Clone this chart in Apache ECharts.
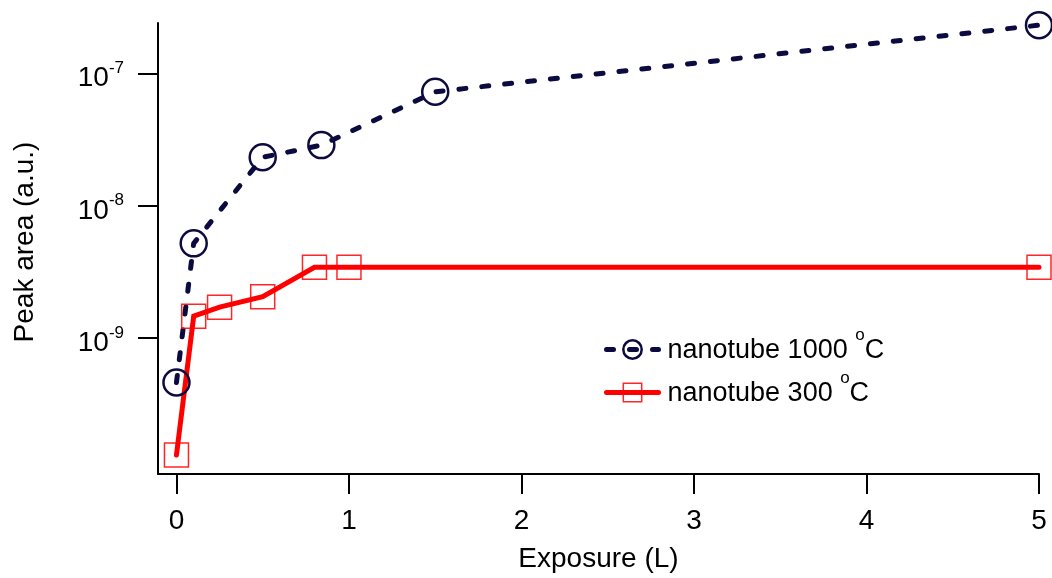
<!DOCTYPE html>
<html>
<head>
<meta charset="utf-8">
<title>Peak area vs exposure</title>
<script src="https://cdn.jsdelivr.net/npm/echarts@6/dist/echarts.min.js"></script>
<style>
  html, body { margin: 0; padding: 0; background: #ffffff; }
  #chart { width: 1052px; height: 578px; }
</style>
</head>
<body>
<div id="chart"></div>
<script>
// Exposure (Langmuir) and integrated peak area for the two nanotube samples
const seriesNames = ['nanotube 1000 °C', 'nanotube 300 °C'];
const exposure1000 = [0, 0.1, 0.5, 0.84, 1.5, 5];
const area1000 = [4.6e-10, 5.2e-9, 2.33e-8, 2.88e-8, 7.3e-8, 2.33e-7];
const exposure300 = [0, 0.1, 0.25, 0.5, 0.8, 1, 5];
const area300 = [1.3e-10, 1.46e-9, 1.71e-9, 2.05e-9, 3.42e-9, 3.42e-9, 3.42e-9];
const xTicks = [0, 1, 2, 3, 4, 5];
const yTicks = [1e-9, 1e-8, 1e-7];

const NAVY = '#0b0b3f';
const RED = '#ff0000';
const MARK_RED = 'rgba(255,0,0,0.85)';
const FONT = '"Liberation Sans", Arial, Helvetica, sans-serif';

function pairs(xs, ys) { return xs.map((x, i) => [x, ys[i]]); }

const chart = echarts.init(document.getElementById('chart'), null, { renderer: 'canvas' });

chart.setOption({
  animation: false,
  backgroundColor: '#ffffff',
  textStyle: { fontFamily: FONT },
  grid: { left: 158, right: 13, top: 23, bottom: 101, containLabel: false },
  xAxis: {
    type: 'value',
    min: -0.107,
    max: 5,
    name: 'Exposure (L)',
    nameLocation: 'middle',
    nameGap: 71,
    nameTextStyle: { fontSize: 28, lineHeight: 28, color: '#000', fontFamily: FONT },
    axisLine: { onZero: false, lineStyle: { color: '#000', width: 2 } },
    axisTick: { show: true, inside: false, length: 20, lineStyle: { color: '#000', width: 2 }, customValues: xTicks },
    axisLabel: { customValues: xTicks, fontSize: 28, lineHeight: 28, color: '#000', margin: 33, fontFamily: FONT },
    splitLine: { show: false }
  },
  yAxis: {
    type: 'log',
    logBase: 10,
    min: 9.33e-11,
    max: 2.42e-7,
    name: 'Peak area (a.u.)',
    nameLocation: 'middle',
    nameGap: 119,
    nameTextStyle: { fontSize: 28, lineHeight: 28, color: '#000', fontFamily: FONT, padding: [0, 0, 0, 13] },
    axisLine: { show: true, onZero: false, lineStyle: { color: '#000', width: 2 } },
    axisTick: { show: true, inside: false, length: 20, lineStyle: { color: '#000', width: 2 }, customValues: yTicks },
    axisLabel: {
      customValues: yTicks,
      margin: 34,
      color: '#000',
      fontFamily: FONT,
      formatter: function (v) {
        const e = Math.round(Math.log10(v));
        return '{b|10}{s|' + e + '}';
      },
      rich: {
        b: { fontSize: 28, lineHeight: 28, padding: [10, 0, 0, 0], color: '#000', fontFamily: FONT },
        s: { fontSize: 17, lineHeight: 17, padding: [0, 0, 10, 0], color: '#000', fontFamily: FONT }
      }
    },
    splitLine: { show: false },
    minorTick: { show: false }
  },
  legend: {
    orient: 'vertical',
    left: 604,
    top: 327,
    padding: 0,
    itemGap: -2,
    itemWidth: 52,
    itemHeight: 23,
    selectedMode: false,
    lineStyle: { width: 5 },
    data: [
      { name: seriesNames[0], itemStyle: { borderWidth: 2.5, borderColor: NAVY, color: 'transparent' } },
      { name: seriesNames[1], itemStyle: { borderWidth: 1.5, borderColor: MARK_RED, color: 'transparent' } }
    ],
    formatter: function (name) {
      const base = name.replace(' °C', ' ');
      return '{t|' + base + '}{s|o}{t|C}';
    },
    textStyle: {
      color: '#000',
      fontFamily: FONT,
      fontSize: 27,
      padding: [0, 0, 0, 4],
      rich: {
        t: { fontSize: 27, lineHeight: 27, padding: [2, 0, 0, 0], color: '#000', fontFamily: FONT },
        s: { fontSize: 17, lineHeight: 17, padding: [0, 0, 28, 0], color: '#000', fontFamily: FONT }
      }
    }
  },
  series: [
    {
      name: seriesNames[0],
      type: 'line',
      data: pairs(exposure1000, area1000),
      symbol: 'circle',
      symbolSize: 26,
      itemStyle: { color: 'transparent', borderColor: NAVY, borderWidth: 2.5 },
      lineStyle: { color: NAVY, width: 5, type: [7, 16], cap: 'round', join: 'round' },
      emphasis: { disabled: true },
      clip: false
    },
    {
      name: seriesNames[1],
      type: 'line',
      data: pairs(exposure300, area300),
      symbol: 'rect',
      symbolSize: 24,
      itemStyle: { color: 'transparent', borderColor: MARK_RED, borderWidth: 1.5 },
      lineStyle: { color: RED, width: 5, cap: 'round', join: 'miter' },
      emphasis: { disabled: true },
      clip: false
    }
  ]
});
</script>
</body>
</html>
